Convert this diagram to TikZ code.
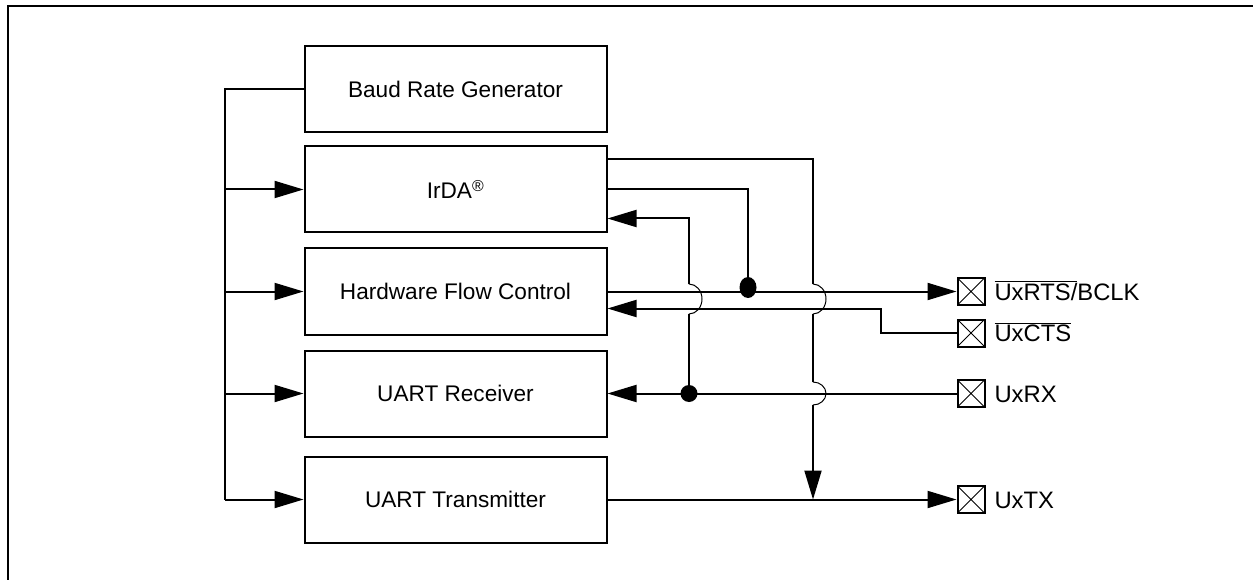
\documentclass[tikz,border=0pt]{standalone}
\usepackage{fontspec}
\setmainfont{Liberation Sans}
\usetikzlibrary{arrows.meta, positioning, shapes.geometric}

\begin{document}
\begin{tikzpicture}[x=1pt, y=-1pt, line width=2pt, font=\fontsize{22.6}{27}\selectfont,
  block/.style={draw, rectangle, minimum width=302pt, minimum height=86pt},
  pin/.style={draw, rectangle, minimum size=27pt, inner sep=0pt,
    path picture={\draw[line width=1pt] (path picture bounding box.south west) -- (path picture bounding box.north east)
      (path picture bounding box.north west) -- (path picture bounding box.south east);}},
  pinlabel/.style={inner sep=0pt, text height=17pt, text depth=0pt, right=8pt of #1,
    font=\fontsize{23.8}{28}\selectfont},
  sig/.style={-{Triangle[length=29pt, width=17pt]}},
  hop/.style={line width=1pt},
  dot/.style={fill, circle, inner sep=0pt, minimum size=17pt},
  ovaldot/.style={fill, ellipse, inner sep=0pt, minimum width=17pt, minimum height=21pt}]
  \useasboundingbox (0,0) rectangle (1253,580);
  \draw (8,580) |- (1253,6);

  % Nodes
  \node[block] (baud) at (455.5,89.5) {Baud Rate Generator};
  \node[block] (irda) at (455.5,189.5) {IrDA\textsuperscript{\textregistered}};
  \node[block] (hfc) at (455.5,291.5) {Hardware Flow Control};
  \node[block] (rx) at (455.5,393.5) {UART Receiver};
  \node[block] (tx) at (455.5,499.5) {UART Transmitter};

  \node[pin] (pinrts) at (971,291.5) {};
  \node[pin] (pincts) at (971,333) {};
  \node[pin] (pinrx) at (971,393.5) {};
  \node[pin] (pintx) at (971,499.5) {};
  \node[pinlabel=pinrts] (lblrts) {$\overline{\mbox{UxRTS/}}$BCLK};
  \node[pinlabel=pincts] (lblcts) {$\overline{\mbox{UxCTS}}$};
  \node[pinlabel=pinrx] (lblrx) {UxRX};
  \node[pinlabel=pintx] (lbltx) {UxTX};

  % Trunks and hops
  \coordinate (bus) at (225,0);
  \coordinate (rxv) at (689,0);
  \coordinate (irv) at (748,0);
  \coordinate (txv) at (813,0);
  \coordinate (ctsv) at (881,0);
  \coordinate (rxhopt) at (689,284);
  \coordinate (rxhopb) at (689,314);
  \coordinate (txhopt) at (813,284);
  \coordinate (txhopb) at (813,314);
  \coordinate (txhoprt) at (813,382);
  \coordinate (txhoprb) at (813,405);
  \coordinate (irdaup) at ([yshift=-14pt]irda.north east);
  \coordinate (irdain) at ([yshift=15pt]irda.south east);
  \coordinate (hfcin) at ([yshift=-17pt]hfc.east);
  \node[dot] (rxdot) at (rxv |- rx.east) {};
  \node[ovaldot] (irdot) at ([yshift=4pt]irv |- hfc.east) {};

  % Arrows
  \draw (baud.west) -| (bus |- tx.west);
  \foreach \b in {irda,hfc,rx,tx}
    \draw[sig] (bus |- \b.west) -- (\b.west);

  \draw (irdaup) -| (txhopt);
  \draw[hop] (txhopt) arc[start angle=-90, end angle=90, x radius=13, y radius=15];
  \draw (txhopb) -- (txhoprt);
  \draw[hop] (txhoprt) arc[start angle=-90, end angle=90, x radius=13, y radius=11.5];
  \draw[sig] (txhoprb) -- (txv |- tx.east);

  \draw (irda.east) -| (irdot.center);
  \draw[sig] (hfc.east) -- (pinrts.west);
  \draw[sig] (pincts.west) -| (ctsv |- hfcin) -- (hfcin);

  \draw[sig] (pinrx.west) -- (rx.east);
  \draw (rxdot.center) -- (rxhopb);
  \draw[hop] (rxhopt) arc[start angle=-90, end angle=90, x radius=13, y radius=15];
  \draw[sig] (rxhopt) |- (irdain);

  \draw[sig] (tx.east) -- (pintx.west);
\end{tikzpicture}
\end{document}
